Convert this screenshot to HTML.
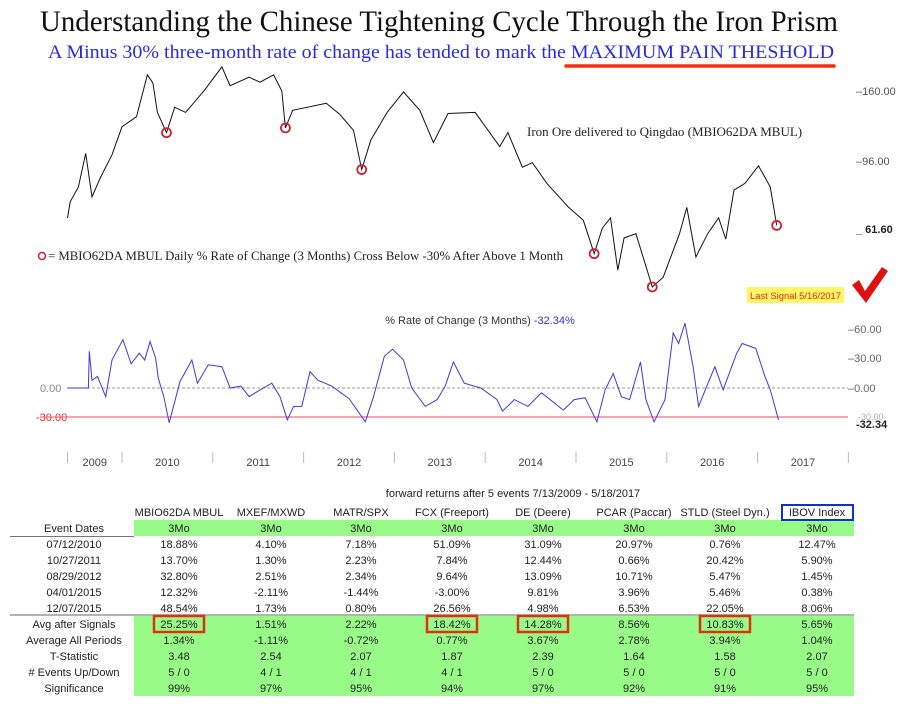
<!DOCTYPE html>
<html><head><meta charset="utf-8"><style>
body{margin:0;background:#fff;}
svg{display:block;}
.serif{font-family:"Liberation Serif",serif;}
.sans{font-family:"Liberation Sans Narrow","Liberation Sans",sans-serif;}
</style></head><body>
<svg id="chart" width="923" height="704" viewBox="0 0 923 704" xmlns="http://www.w3.org/2000/svg">
<text class="serif" x="40" y="31" font-size="30" textLength="798" lengthAdjust="spacingAndGlyphs" fill="#111">Understanding the Chinese Tightening Cycle Through the Iron Prism</text>
<text class="serif" x="48" y="58" font-size="19" textLength="786" lengthAdjust="spacingAndGlyphs" fill="#2a2ae0">A Minus 30% three-month rate of change has tended to mark the MAXIMUM PAIN THESHOLD</text>
<line x1="566" y1="66" x2="834" y2="66" stroke="#f03010" stroke-width="3.5" stroke-linecap="round"/>

<g id="price-axis" class="sans" font-size="11" fill="#555">
<text x="856" y="95">–160.00</text>
<text x="856" y="165">–96.00</text>
<text x="856" y="233" font-weight="bold" fill="#222">_ 61.60</text>
</g>
<text class="serif" x="527" y="136" font-size="13" fill="#222">Iron Ore delivered to Qingdao (MBIO62DA MBUL)</text>
<circle cx="42" cy="256" r="3.5" fill="none" stroke="#d02030" stroke-width="1.5"/>
<text class="serif" x="48" y="260" font-size="12.5" textLength="515" lengthAdjust="spacingAndGlyphs" fill="#222">= MBIO62DA MBUL Daily % Rate of Change (3 Months) Cross Below -30% After Above 1 Month</text>
<rect x="747" y="287" width="97" height="16" fill="#fff566"/>
<text class="sans" x="750" y="299" font-size="9.5" textLength="91" lengthAdjust="spacingAndGlyphs" fill="#e03010">Last Signal 5/16/2017</text>
<path d="M852 285 L859 280 L865 291 L882 267 L888 271 L866 303 Z" fill="#e01010"/>

<g id="price-line"></g>

<text class="sans" x="480" y="324" font-size="11" text-anchor="middle" fill="#333">% Rate of Change (3 Months)  <tspan fill="#3030e0">-32.34%</tspan></text>
<g class="sans" font-size="11">
<text x="40" y="392" fill="#888">0.00</text>
<text x="36" y="421" fill="#e03030">-30.00</text>
<text x="848" y="333" fill="#666">–60.00</text>
<text x="848" y="362" fill="#666">–30.00</text>
<text x="848" y="392" fill="#666">–0.00</text>
<text x="858" y="420" fill="#aaa" font-size="9">-30.00</text>
<text x="856" y="428" fill="#222" font-weight="bold">-32.34</text>
</g>
<line x1="67" y1="388" x2="848" y2="388" stroke="#999" stroke-dasharray="3,2"/>
<line x1="40" y1="417" x2="848" y2="417" stroke="#f07080" stroke-width="1.2"/>
<g id="roc-line"></g>
<g id="x-axis" class="sans" font-size="11" fill="#444"></g>

<g id="table" class="sans" font-size="11"></g>
</svg>
<script>
const NS="http://www.w3.org/2000/svg";
const priceDates=[2009.40,2009.43,2009.52,2009.60,2009.67,2009.76,2009.89,2010.0,2010.16,2010.28,2010.34,2010.39,2010.49,2010.58,2010.70,2010.91,2011.10,2011.19,2011.40,2011.52,2011.67,2011.76,2011.80,2011.88,2012.25,2012.40,2012.55,2012.64,2012.74,2012.92,2013.10,2013.28,2013.43,2013.59,2013.89,2014.16,2014.25,2014.41,2014.52,2014.68,2014.92,2015.08,2015.20,2015.29,2015.38,2015.46,2015.53,2015.66,2015.84,2015.96,2016.14,2016.22,2016.32,2016.45,2016.57,2016.65,2016.74,2016.86,2017.01,2017.14,2017.21];
const priceValues=[66.5,74.4,82.4,104,77,87.7,103,125,134,179,169,138,120,143,138,161,189,166,176,170,179,160,124,140,147,136,122,93,114,138,159,140,112,137,138,109,120,94.5,97.5,84.5,71.6,65.5,52,62,66.6,46.4,58,59.7,41.3,44.2,59.7,71.6,50.8,59.7,66.6,57.5,80.7,84.5,95.4,82.4,63.2];
const signalDates=[2010.49,2011.80,2012.64,2015.20,2015.84,2017.21];
const signalValues=[120,124,93,52,41.3,63.2];
const rocDates=[2009.40,2009.63,2009.64,2009.67,2009.73,2009.82,2009.89,2010.01,2010.10,2010.19,2010.25,2010.31,2010.37,2010.40,2010.46,2010.52,2010.64,2010.77,2010.83,2010.95,2011.10,2011.19,2011.31,2011.40,2011.52,2011.65,2011.74,2011.82,2011.89,2011.98,2012.07,2012.16,2012.31,2012.50,2012.59,2012.68,2012.77,2012.89,2012.98,2013.10,2013.19,2013.34,2013.47,2013.56,2013.65,2013.77,2013.95,2014.13,2014.19,2014.32,2014.47,2014.62,2014.77,2014.86,2014.98,2015.10,2015.23,2015.32,2015.41,2015.50,2015.59,2015.71,2015.77,2015.86,2015.98,2016.07,2016.13,2016.20,2016.29,2016.35,2016.44,2016.53,2016.62,2016.77,2016.83,2016.98,2017.08,2017.14,2017.23];
const rocValues=[0,0,38,8,12,-9,29,50,25,36,29,48,31,10,-9,-36,7,29,5,24,22,0,2,-9,-2,5,-9,-33,-19,-19,17,8,2,-11,-23,-35,-9,33,40,29,0,-19,-12,2,27,5,0,-12,-24,-12,-19,-5,-16,-23,-12,-10,-35,-2,15,-9,-12,27,-12,-35,-12,57,46,67,22,-19,2,22,-2,36,46,41,12,-2,-33];
const yearLabels=["2009","2010","2011","2012","2013","2014","2015","2016","2017"];
const yearTicks=[2009.4,2010,2011,2012,2013,2014,2015,2016,2017,2018];
const colHeads=["MBIO62DA MBUL","MXEF/MXWD","MATR/SPX","FCX (Freeport)","DE (Deere)","PCAR (Paccar)","STLD (Steel Dyn.)","IBOV Index"];
const rowLabels=["07/12/2010","10/27/2011","08/29/2012","04/01/2015","12/07/2015","Avg after Signals","Average All Periods","T-Statistic","# Events Up/Down","Significance"];
const cells=[
["18.88%","4.10%","7.18%","51.09%","31.09%","20.97%","0.76%","12.47%"],
["13.70%","1.30%","2.23%","7.84%","12.44%","0.66%","20.42%","5.90%"],
["32.80%","2.51%","2.34%","9.64%","13.09%","10.71%","5.47%","1.45%"],
["12.32%","-2.11%","-1.44%","-3.00%","9.81%","3.96%","5.46%","0.38%"],
["48.54%","1.73%","0.80%","26.56%","4.98%","6.53%","22.05%","8.06%"],
["25.25%","1.51%","2.22%","18.42%","14.28%","8.56%","10.83%","5.65%"],
["1.34%","-1.11%","-0.72%","0.77%","3.67%","2.78%","3.94%","1.04%"],
["3.48","2.54","2.07","1.87","2.39","1.64","1.58","2.07"],
["5 / 0","4 / 1","4 / 1","4 / 1","5 / 0","5 / 0","5 / 0","5 / 0"],
["99%","97%","95%","94%","97%","92%","91%","95%"]];
const highlighted=[0,3,4,6];

function xS(t){return 122+(t-2010)*90.8;}
function yP(p){return 825.4-144.7*Math.log(p);}
function yR(v){return 388-v*29/30;}
function mk(tag,attrs,parent){const e=document.createElementNS(NS,tag);for(const k in attrs)e.setAttribute(k,attrs[k]);parent.appendChild(e);return e;}

const pg=document.getElementById('price-line');
let d=priceDates.map((t,i)=>(i?'L':'M')+xS(t).toFixed(1)+' '+yP(priceValues[i]).toFixed(1)).join(' ');
const pl=mk('path',{d:d,fill:'none',stroke:'#111','stroke-width':1},pg);


signalDates.forEach((t,i)=>{
 const c=mk('circle',{cx:xS(t),cy:yP(signalValues[i]),r:4.5,fill:'none',stroke:'#d02030','stroke-width':1.8},pg);
 
 
});
const rg=document.getElementById('roc-line');
d=rocDates.map((t,i)=>(i?'L':'M')+xS(t).toFixed(1)+' '+yR(rocValues[i]).toFixed(1)).join(' ');
const rl=mk('path',{d:d,fill:'none',stroke:'#3a3ae0','stroke-width':1},rg);



const xg=document.getElementById('x-axis');
yearTicks.forEach((t,i)=>{
 const l=mk('line',{x1:xS(t),y1:452,x2:xS(t),y2:463,stroke:'#bbb'},xg);
 
 
 if(i<yearLabels.length){
  const tx=mk('text',{x:(xS(t)+xS(yearTicks[i+1]))/2,y:466,'text-anchor':'middle'},xg);
  tx.textContent=yearLabels[i];
  
  
 }
});

const tg=document.getElementById('table');
const colX=[179,271,361,452,543,634,725,817];
mk('rect',{x:134,y:520,width:720,height:16,fill:'#98fb88'},tg);
mk('rect',{x:134,y:616,width:720,height:80,fill:'#98fb88'},tg);
mk('line',{x1:10,y1:536.5,x2:134,y2:536.5,stroke:'#777'},tg);
mk('line',{x1:10,y1:615,x2:854,y2:615,stroke:'#999','stroke-width':1.5},tg);
let t=mk('text',{x:513,y:497,'text-anchor':'middle',fill:'#222'},tg);
t.textContent="forward returns after 5 events 7/13/2009 - 5/18/2017";


mk('rect',{x:782,y:505,width:71,height:15,fill:'none',stroke:'#1030d0','stroke-width':2},tg);
colHeads.forEach((h,j)=>{
 const e=mk('text',{x:colX[j],y:516,'text-anchor':'middle',fill:'#222'},tg);
 e.textContent=h;
 
 
 const m=mk('text',{x:colX[j],y:532,'text-anchor':'middle',fill:'#222'},tg);
 m.textContent="3Mo";
 
 
});
t=mk('text',{x:74,y:532,'text-anchor':'middle',fill:'#222'},tg);
t.textContent="Event Dates";


rowLabels.forEach((r,i)=>{
 const y=548+i*16;
 const e=mk('text',{x:74,y:y,'text-anchor':'middle',fill:'#222'},tg);
 e.textContent=r;
 
 
 cells[i].forEach((c,j)=>{
  const ce=mk('text',{x:colX[j],y:y,'text-anchor':'middle',fill:'#222'},tg);
  ce.textContent=c;
  
  
 });
});
highlighted.forEach(j=>{
 const b=mk('rect',{x:colX[j]-25,y:616,width:50,height:16,fill:'none',stroke:'#e03010','stroke-width':2.5},tg);
 
 
});
</script>
</body></html>
